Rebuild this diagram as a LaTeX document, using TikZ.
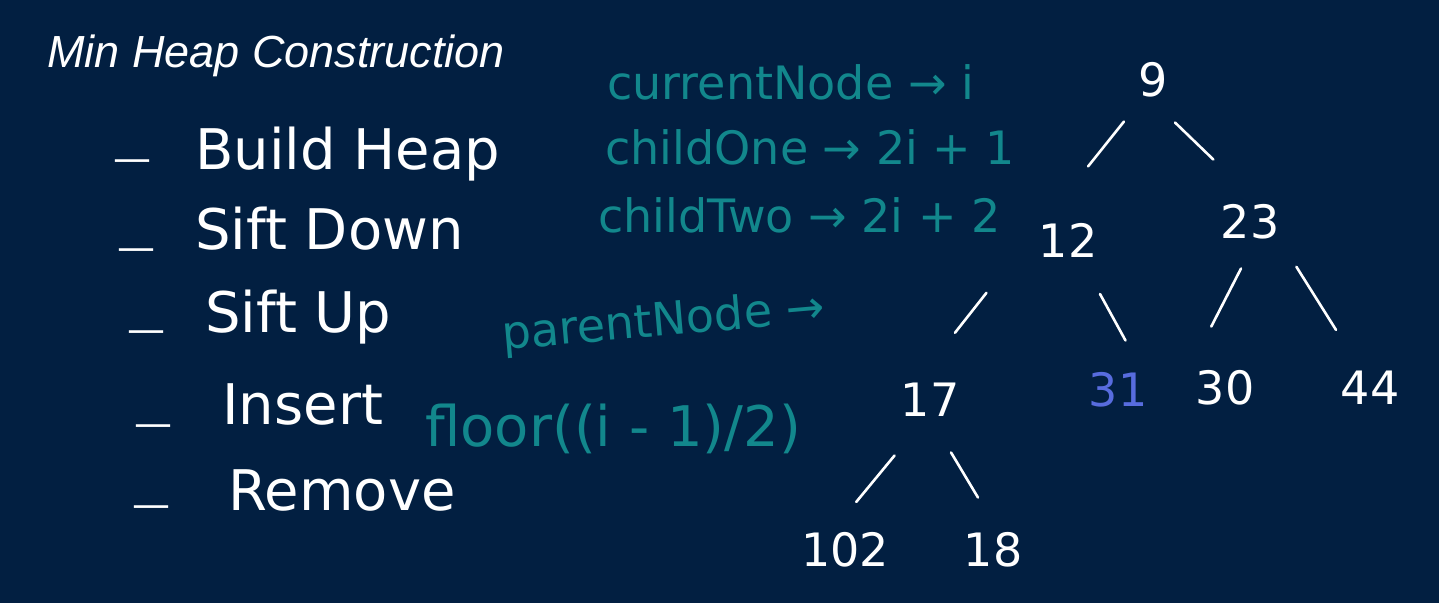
\documentclass[tikz,border=0pt]{standalone}
\usepackage{fontspec}
\setmainfont{DejaVu Sans}
\newfontfamily\titlefont{Liberation Sans}
\usetikzlibrary{calc}

\definecolor{boardbg}{RGB}{2,31,65}
\definecolor{chalkteal}{RGB}{18,135,140}
\definecolor{chalkblue}{RGB}{88,108,222}

\begin{document}
\begin{tikzpicture}[
  x=0.5pt,y=-0.5pt,
  hw/.style={text=white,inner sep=0,font=\fontsize{28}{30}\selectfont},
  note/.style={text=chalkteal,inner sep=0,font=\fontsize{23}{26}\selectfont},
  key/.style={text=white,inner sep=4pt,font=\fontsize{23}{26}\selectfont},
  edge/.style={white,line width=1.3pt,line cap=round},
]
  \fill[boardbg] (0,0) rectangle (1439,603);
  \useasboundingbox (0,0) rectangle (1439,603);
  \node[text=white,inner sep=0,anchor=base west,font=\titlefont\itshape\fontsize{22.5}{24}\selectfont] (title) at (47,68) {Min Heap Construction};
  % list on the left
  \foreach \n/\x/\y/\dx/\dy/\t in {bh/195/170/132/166/Build Heap,sd/195/250/136/255/Sift Down,su/205/333/146/337/Sift Up,ins/222/425/153/431/Insert,rem/228/510/151/512/Remove}{
    \node[hw,font=\fontsize{19}{20}\selectfont] (d\n) at (\dx,\dy) {---};
    \node[hw,anchor=base west] (\n) at (\x,\y) {\t};
  }
  % index formulas
  \node[note,anchor=base west] (cur) at (607,100) {currentNode → i};
  \node[note,anchor=base west] (one) at (605,165) {childOne → 2i + 1};
  \node[note,anchor=base west] (two) at (598,233) {childTwo → 2i + 2};
  \node[note,anchor=base west,rotate=5] (par) at (503,350) {parentNode →};
  \node[note,anchor=base west,font=\fontsize{28}{30}\selectfont] (flr) at (425,447) {floor((i - 1)/2)};
  % the heap
  \foreach \n/\x/\y in {9/1153/80,12/1068/240,23/1250/222,17/930/400,30/1225/388,44/1370/388,102/845/550,18/993/550}
    \node[key] (n\n) at (\x,\y) {\n};
  \node[key,text=chalkblue] (n31) at (1118,390) {31};
  \foreach \a/\b/\f/\g/\sa/\sb in {9/12/.26/.54/-7/-19,9/23/.3/.56/-7/6,12/17/.33/.58/-36/-33,12/31/.36/.67/14/24,
      23/30/.28/.63/-2/-23,23/44/.27/.65/14/8,17/102/.37/.68/-4/-16,17/18/.35/.65/-1/7}
    \draw[edge] ($(n\a)!\f!(n\b)+(\sa,0)$) -- ($(n\a)!\g!(n\b)+(\sb,0)$);
\end{tikzpicture}
\end{document}
